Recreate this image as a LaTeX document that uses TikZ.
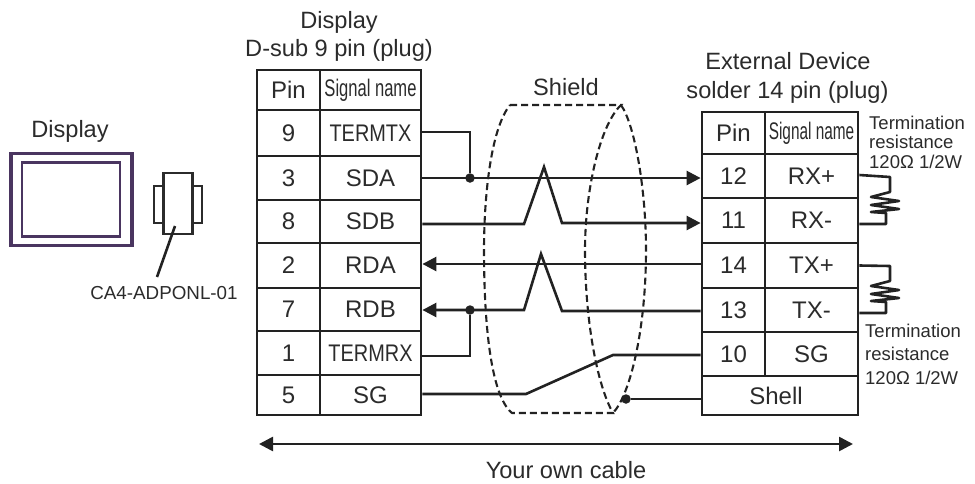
\documentclass[tikz,border=0pt]{standalone}
\usepackage{fontspec}
\setmainfont{Liberation Sans}
\usetikzlibrary{arrows.meta}
\definecolor{txt}{HTML}{2B2B2B}
\definecolor{wire}{HTML}{222222}
\definecolor{frame}{HTML}{4A3560}
\tikzset{
  cell/.style={draw=wire, line width=2.8pt, inner sep=0pt, text=txt, font=\fontsize{24}{26}\selectfont},
  title/.style={text=txt, inner sep=0pt, font=\fontsize{23.6}{25}\selectfont},
  note/.style={text=txt, inner sep=0pt, anchor=west, align=left},
  line/.style={draw=wire, line width=2.6pt},
  dotnode/.style={circle, fill=wire, inner sep=0pt, minimum size=9.5pt},
  sig/.style={line, -{Triangle[length=14pt,width=14pt]}},
  shield/.style={draw=wire, line width=2.1pt, dash pattern=on 7pt off 4pt},
}
\newcommand{\narrow}[2]{\scalebox{#1}[1]{#2}}
\begin{document}
\begin{tikzpicture}[x=1pt,y=-1pt]
\useasboundingbox (0,0) rectangle (975,483);

\node[title] (dtitle) at (339,22) {Display};
\node[title] (dsub) at (339,50) {D-sub 9 pin (plug)};
\node[title] (shieldname) at (566,87) {Shield};
\node[title] (extname) at (788,61) {External Device};
\node[title] (solder) at (787.5,92) {solder 14 pin (plug)};
\node[title] (hmi) at (70,131) {Display};

% display and adapter
\node[draw=frame, line width=3.6pt, minimum width=121pt, minimum height=92pt, inner sep=0pt] (screen) at (71.5,199.5) {};
\node[draw=frame, line width=2.4pt, minimum width=98pt, minimum height=74pt, inner sep=0pt] (glass) at (71,199.5) {};
\node[draw=txt, line width=2.2pt, minimum width=10pt, minimum height=37pt, inner sep=0pt] (tableft) at (159,204.5) {};
\node[draw=txt, line width=2.2pt, minimum width=10pt, minimum height=37pt, inner sep=0pt] (tabright) at (197,204.5) {};
\node[draw=txt, fill=white, line width=2.2pt, minimum width=29pt, minimum height=61pt, inner sep=0pt] (plug) at (178,203.5) {};
\node[text=txt, inner sep=0pt, font=\fontsize{18.8}{20}\selectfont] (adapter) at (164,293) {CA4-ADPONL-01};
\coordinate (leader) at (157,277);
\draw[line] (175,226) -- (leader);

% left table
\node[cell, minimum width=63pt, minimum height=40pt] (lpin) at (288.5,90) {Pin};
\node[cell, minimum width=101pt, minimum height=40pt] (lname) at (370.5,90) {\narrow{0.69}{Signal name}};
\node[cell, minimum width=63pt, minimum height=46pt] (l9) at (288.5,133) {9};
\node[cell, minimum width=101pt, minimum height=46pt] (termtx) at (370.5,133) {\narrow{0.83}{TERMTX}};
\node[cell, minimum width=63pt, minimum height=44pt] (l3) at (288.5,178) {3};
\node[cell, minimum width=101pt, minimum height=44pt] (sda) at (370.5,178) {SDA};
\node[cell, minimum width=63pt, minimum height=43pt] (l8) at (288.5,221.5) {8};
\node[cell, minimum width=101pt, minimum height=43pt] (sdb) at (370.5,221.5) {SDB};
\node[cell, minimum width=63pt, minimum height=45pt] (l2) at (288.5,265.5) {2};
\node[cell, minimum width=101pt, minimum height=45pt] (rda) at (370.5,265.5) {RDA};
\node[cell, minimum width=63pt, minimum height=43pt] (l7) at (288.5,309.5) {7};
\node[cell, minimum width=101pt, minimum height=43pt] (rdb) at (370.5,309.5) {RDB};
\node[cell, minimum width=63pt, minimum height=44pt] (l1) at (288.5,353) {1};
\node[cell, minimum width=101pt, minimum height=44pt] (termrx) at (370.5,353) {\narrow{0.83}{TERMRX}};
\node[cell, minimum width=63pt, minimum height=40pt] (l5) at (288.5,395) {5};
\node[cell, minimum width=101pt, minimum height=40pt] (lsg) at (370.5,395) {SG};

% right table
\node[cell, minimum width=63pt, minimum height=42pt] (rpin) at (733.5,133) {Pin};
\node[cell, minimum width=93pt, minimum height=42pt] (rname) at (811.5,133) {\narrow{0.64}{Signal name}};
\node[cell, minimum width=63pt, minimum height=44pt] (r12) at (733.5,176) {12};
\node[cell, minimum width=93pt, minimum height=44pt] (rxp) at (811.5,176) {RX+};
\node[cell, minimum width=63pt, minimum height=45pt] (r11) at (733.5,220.5) {11};
\node[cell, minimum width=93pt, minimum height=45pt] (rxm) at (811.5,220.5) {RX-};
\node[cell, minimum width=63pt, minimum height=45pt] (r14) at (733.5,265.5) {14};
\node[cell, minimum width=93pt, minimum height=45pt] (txp) at (811.5,265.5) {TX+};
\node[cell, minimum width=63pt, minimum height=44pt] (r13) at (733.5,310) {13};
\node[cell, minimum width=93pt, minimum height=44pt] (txm) at (811.5,310) {TX-};
\node[cell, minimum width=63pt, minimum height=44pt] (r10) at (733.5,354) {10};
\node[cell, minimum width=93pt, minimum height=44pt] (rsg) at (811.5,354) {SG};
\node[cell, minimum width=156pt, minimum height=39pt] (shell) at (780,395.5) {\hspace*{-8pt}Shell};

% notes
\node[note, font=\fontsize{18.5}{19.5}\selectfont] (term1) at (869,142) {Termination\\resistance\\120Ω 1/2W};
\node[note, font=\fontsize{18.5}{23.5}\selectfont] (term2) at (865,354) {Termination\\resistance\\120Ω 1/2W};

% wires
\node[dotnode] (d1) at (470,178) {};
\node[dotnode] (d2) at (470,310) {};
\node[dotnode] (d3) at (626,399) {};
\draw[line] ([yshift=1pt]termtx.east) -| (d1);
\draw[sig] (sda.east) -- ([yshift=-2pt]r12.west);
\draw[sig] ([yshift=-2.5pt]sdb.east) -- (524,224) -- (544,167) -- (562,223) -- ([yshift=-2.5pt]r11.west);
\draw[sig] ([yshift=1.5pt]r14.west) -- ([yshift=1.5pt]rda.east);
\draw[sig] ([yshift=-1pt]r13.west) -- (562,311) -- (541,254) -- (524,310) -- ([yshift=-.5pt]rdb.east);
\draw[line] ([yshift=-3pt]termrx.east) -| (d2);
\draw[line] ([yshift=1pt]lsg.east) -- (526,394) -- (613,355) -- ([yshift=-1pt]r10.west);
\draw[line] (d3) -- (d3 -| shell.west);

% shield
\draw[shield] (510,105) -- (621,105) .. controls (600,125) and (585,190) .. (585,250) .. controls (585,320) and (597,385) .. (613,413) -- (512,413) .. controls (490,395) and (484,320) .. (484,250) .. controls (484,200) and (490,130) .. (510,105);
\draw[shield] (621,105) .. controls (635,125) and (646,190) .. (646,250) .. controls (646,330) and (630,395) .. (613,413);

% resistors
\draw[line, line join=round] ([yshift=1pt]rxp.east) -- (890,177) -- (890,192) -- (871,197) -- (899,201) -- (871,205) -- (899,209) -- (871,212) -- (886,213) -- (886,224) -- ([yshift=-3.5pt]rxm.east);
\draw[line, line join=round] (txp.east) -- (890,266) -- (890,281) -- (871,286) -- (899,290) -- (871,294) -- (899,298) -- (871,301) -- (886,302) -- (886,313) -- ([yshift=-3pt]txm.east);

% cable length
\coordinate (cableleft) at (259,444);
\coordinate (cableright) at (853,444);
\draw[line, {Triangle[length=14pt,width=14pt]}-{Triangle[length=14pt,width=14pt]}] (cableleft) -- (cableright);
\node[title] (cable) at (566,470) {Your own cable};
\end{tikzpicture}
\end{document}
